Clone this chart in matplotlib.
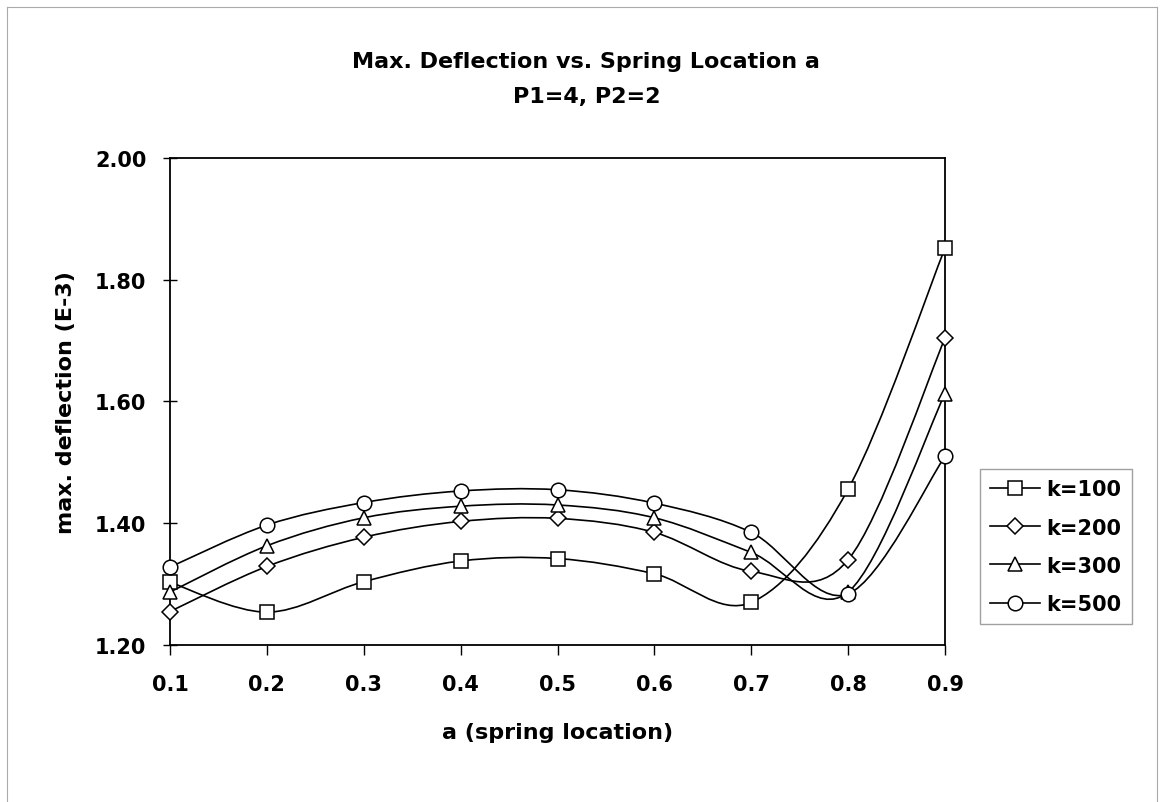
import matplotlib
matplotlib.use('Agg')
import matplotlib.pyplot as plt
from matplotlib.path import Path
from matplotlib.patches import PathPatch
from matplotlib.lines import Line2D
from matplotlib.ticker import FormatStrFormatter

# spring location a
a_vals = [0.1, 0.2, 0.3, 0.4, 0.5, 0.6, 0.7, 0.8, 0.9]

# max. deflection (E-3), one list per spring stiffness
k100 = [1.303, 1.254, 1.304, 1.338, 1.342, 1.317, 1.270, 1.456, 1.852]
k200 = [1.255, 1.329, 1.377, 1.403, 1.408, 1.385, 1.321, 1.340, 1.704]
k300 = [1.287, 1.363, 1.409, 1.428, 1.430, 1.409, 1.352, 1.287, 1.613]
k500 = [1.328, 1.397, 1.434, 1.453, 1.455, 1.433, 1.385, 1.284, 1.510]

series_labels = ['k=100', 'k=200', 'k=300', 'k=500']
series_markers = ['s', 'D', '^', 'o']
marker_sizes = [10, 8.5, 10, 10.5]


def smooth_path(xs, ys):
    # excel style smoothed line: cubic bezier through each point
    pts = list(zip(xs, ys))
    n = len(pts)
    verts = [pts[0]]
    codes = [Path.MOVETO]
    for i in range(n - 1):
        p0 = pts[i - 1] if i > 0 else pts[i]
        p1 = pts[i]
        p2 = pts[i + 1]
        p3 = pts[i + 2] if i + 2 < n else pts[i + 1]
        c1 = (p1[0] + (p2[0] - p0[0]) / 6, p1[1] + (p2[1] - p0[1]) / 6)
        c2 = (p2[0] - (p3[0] - p1[0]) / 6, p2[1] - (p3[1] - p1[1]) / 6)
        verts += [c1, c2, p2]
        codes += [Path.CURVE4] * 3
    return Path(verts, codes)


plt.rcParams['font.family'] = ['DejaVu Sans']
plt.rcParams['font.weight'] = 'bold'

fig = plt.figure(figsize=(11.61, 8.03), dpi=100)
ax = fig.add_axes([170 / 1161, 1 - 646 / 803, 775 / 1161, 487 / 803])

handles = []
for ys, lab, mk, ms in zip([k100, k200, k300, k500], series_labels, series_markers, marker_sizes):
    patch = PathPatch(smooth_path(a_vals, ys), facecolor='none', edgecolor='black', lw=1.2, zorder=2)
    ax.add_patch(patch)
    ax.plot(a_vals, ys, linestyle='none', marker=mk, markersize=ms, markerfacecolor='white',
            markeredgecolor='black', markeredgewidth=1.1, zorder=3, clip_on=False)
    handles.append(Line2D([], [], color='black', lw=1.2, marker=mk, markersize=ms,
                          markerfacecolor='white', markeredgecolor='black', markeredgewidth=1.1))

ax.set_xlim(0.1, 0.9)
ax.set_ylim(1.2, 2.0)
ax.set_xticks(a_vals)
ax.set_yticks([1.2, 1.4, 1.6, 1.8, 2.0])
ax.xaxis.set_major_formatter(FormatStrFormatter('%.1f'))
ax.yaxis.set_major_formatter(FormatStrFormatter('%.2f'))
ax.tick_params(axis='x', direction='out', length=7, width=1, pad=14, labelsize=15)
ax.tick_params(axis='y', direction='inout', length=10, width=1, pad=12, labelsize=15)
for s in ax.spines.values():
    s.set_linewidth(1.3)
    s.set_color('black')

ax.set_xlabel('a (spring location)', fontsize=16, fontweight='bold', labelpad=20)
ax.set_ylabel('max. deflection (E-3)', fontsize=16, fontweight='bold', labelpad=14)

fig.text(0.505, 1 - 62 / 803, 'Max. Deflection vs. Spring Location a', ha='center', va='center',
         fontsize=16, fontweight='bold')
fig.text(0.505, 1 - 97 / 803, 'P1=4, P2=2', ha='center', va='center', fontsize=16, fontweight='bold')

leg = fig.legend(handles, series_labels, loc='upper left', bbox_to_anchor=(980 / 1161, 1 - 470 / 803),
                 borderaxespad=0, frameon=True, fancybox=False, handlelength=2.4, handletextpad=0.3,
                 labelspacing=0.87, borderpad=0.5, prop={'size': 15, 'weight': 'bold'})
leg.get_frame().set_edgecolor('#888888')
leg.get_frame().set_linewidth(1.0)

# thin grey frame around the chart area
for xs, ys in [([7 / 1161, 7 / 1161], [0, 1 - 8 / 803]),
               ([7 / 1161, 1157 / 1161], [1 - 8 / 803, 1 - 8 / 803]),
               ([1157 / 1161, 1157 / 1161], [1 - 8 / 803, 0])]:
    fig.add_artist(Line2D(xs, ys, color='#aaaaaa', lw=0.8))

fig.savefig('out.png', dpi=100)
